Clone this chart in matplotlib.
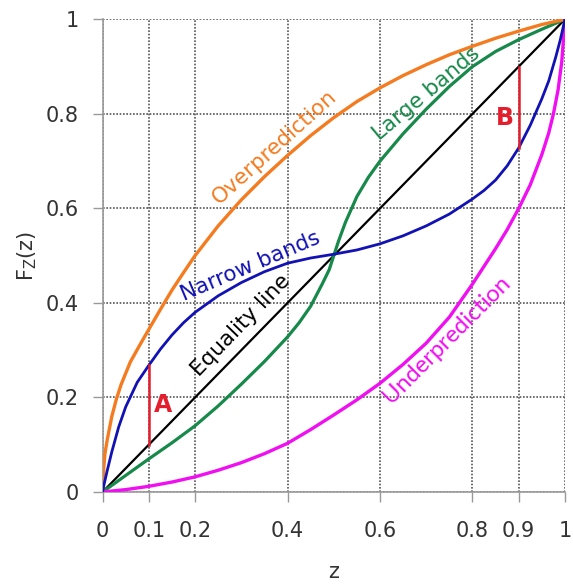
import matplotlib
matplotlib.use("Agg")
import matplotlib.pyplot as plt

# CDF curves F_Z(z) read at a set of z values
z_over = [0, 0.0025, 0.005, 0.01, 0.02, 0.03, 0.04, 0.06, 0.08, 0.1, 0.125, 0.15, 0.175, 0.2, 0.25,
          0.3, 0.35, 0.4, 0.45, 0.5, 0.55, 0.6, 0.65, 0.7, 0.75, 0.8, 0.85, 0.9, 0.95, 1]
f_over = [0, 0.05, 0.08, 0.11, 0.16, 0.197, 0.227, 0.275, 0.31, 0.344, 0.386, 0.427, 0.464, 0.50, 0.563,
          0.618, 0.667, 0.712, 0.754, 0.792, 0.826, 0.855, 0.881, 0.904, 0.925, 0.943, 0.96, 0.975, 0.989, 1]

z_under = [0, 0.05, 0.1, 0.15, 0.2, 0.25, 0.3, 0.35, 0.4, 0.45, 0.5, 0.55, 0.6, 0.65, 0.7, 0.75,
           0.8, 0.85, 0.875, 0.9, 0.925, 0.95, 0.965, 0.975, 0.985, 0.993, 1]
f_under = [0, 0.005, 0.012, 0.021, 0.032, 0.046, 0.062, 0.081, 0.103, 0.132, 0.163, 0.195, 0.23, 0.27,
           0.315, 0.37, 0.44, 0.515, 0.555, 0.60, 0.65, 0.714, 0.76, 0.80, 0.85, 0.91, 1]

z_narrow = [0, 0.003, 0.01, 0.02, 0.035, 0.05, 0.075, 0.1, 0.125, 0.15, 0.175, 0.2, 0.25, 0.3, 0.35,
            0.4, 0.45, 0.5, 0.55, 0.6, 0.65, 0.7, 0.75, 0.8, 0.825, 0.85, 0.875, 0.9, 0.925, 0.95,
            0.965, 0.98, 0.99, 1]
f_narrow = [0, 0.015, 0.045, 0.085, 0.138, 0.18, 0.232, 0.268, 0.302, 0.332, 0.358, 0.38, 0.415, 0.443, 0.466,
            0.484, 0.495, 0.503, 0.512, 0.525, 0.542, 0.563, 0.588, 0.62, 0.638, 0.66, 0.69, 0.728, 0.776, 0.832,
            0.87, 0.92, 0.957, 1]

z_large = [0, 0.05, 0.1, 0.15, 0.2, 0.25, 0.3, 0.35, 0.4, 0.425, 0.45, 0.475, 0.49, 0.5, 0.51, 0.525,
           0.55, 0.575, 0.6, 0.65, 0.7, 0.75, 0.8, 0.85, 0.9, 0.95, 1]
f_large = [0, 0.035, 0.07, 0.104, 0.14, 0.182, 0.228, 0.276, 0.328, 0.358, 0.393, 0.44, 0.47, 0.5, 0.53, 0.57,
           0.625, 0.666, 0.70, 0.758, 0.81, 0.858, 0.9, 0.932, 0.957, 0.979, 1]

z_eq = [0, 1]
f_eq = [0, 1]

# gaps between equality line and narrow bands curve
gapA_z = 0.1
gapA = [0.1, 0.268]
gapB_z = 0.9
gapB = [0.728, 0.9]

xticks = [0, 0.1, 0.2, 0.4, 0.6, 0.8, 0.9, 1]
xticklabels = ["0", "0.1", "0.2", "0.4", "0.6", "0.8", "0.9", "1"]
yticks = [0, 0.2, 0.4, 0.6, 0.8, 1]
yticklabels = ["0", "0.2", "0.4", "0.6", "0.8", "1"]

c_over = "#f47b20"
c_under = "#f00ff0"
c_narrow = "#1212b4"
c_large = "#17894a"
c_red = "#e41e2c"

fig = plt.figure(figsize=(5.73, 5.85), dpi=100)
ax = fig.add_axes([0.179, 0.159, 0.807, 0.808])

ax.plot(z_eq, f_eq, color="black", lw=1.6, zorder=3)
ax.plot(z_large, f_large, color=c_large, lw=2.3, zorder=3)
ax.plot(z_narrow, f_narrow, color=c_narrow, lw=2.0, zorder=4)
ax.plot(z_over, f_over, color=c_over, lw=2.4, zorder=3)
ax.plot(z_under, f_under, color=c_under, lw=2.4, zorder=3)

ax.plot([gapA_z, gapA_z], gapA, color=c_red, lw=1.8, zorder=5)
ax.plot([gapB_z, gapB_z], gapB, color=c_red, lw=1.8, zorder=5)
ax.text(0.131, 0.184, "A", color=c_red, fontsize=17, fontweight="bold", ha="center", va="center")
ax.text(0.870, 0.792, "B", color=c_red, fontsize=17, fontweight="bold", ha="center", va="center")

# curve names written along the curves
lab = dict(ha="center", va="center", rotation_mode="anchor")
ax.text(0.371, 0.730, "Overprediction", color=c_over, rotation=42, fontsize=15.5, **lab)
ax.text(0.319, 0.478, "Narrow bands", color=c_narrow, rotation=23, fontsize=15.5, **lab)
ax.text(0.299, 0.352, "Equality line", color="black", rotation=46, fontsize=15.5, **lab)
ax.text(0.700, 0.842, "Large bands", color=c_large, rotation=40, fontsize=15.5, **lab)
ax.text(0.745, 0.322, "Underprediction", color=c_under, rotation=45, fontsize=17,
        family="Lato", **lab)

ax.set_xlim(0, 1)
ax.set_ylim(0, 1)
ax.set_xticks(xticks)
ax.set_xticklabels(xticklabels)
ax.set_yticks(yticks)
ax.set_yticklabels(yticklabels)
ax.tick_params(axis="both", colors="#999999", labelcolor="#333333", labelsize=15, length=7, width=1)
ax.tick_params(axis="x", pad=14)
ax.tick_params(axis="y", pad=10)

ax.grid(True, linestyle=(0, (1, 1)), color="#555555", lw=1.2, zorder=1)
ax.set_axisbelow(True)
for side in ["top", "right"]:
    ax.spines[side].set_visible(False)
for side in ["left", "bottom"]:
    ax.spines[side].set_color("#999999")
    ax.spines[side].set_linewidth(1.2)

ax.set_xlabel("z", fontsize=15, color="#333333")
ax.xaxis.set_label_coords(0.5, -0.17)
ax.xaxis.label.set_va("center")
ax.set_ylabel(r"F$_{\mathregular{Z}}$(z)", fontsize=15, color="#333333")
ax.yaxis.set_label_coords(-0.163, 0.5)
ax.yaxis.label.set_va("center")

plt.savefig("out.png", dpi=100)
